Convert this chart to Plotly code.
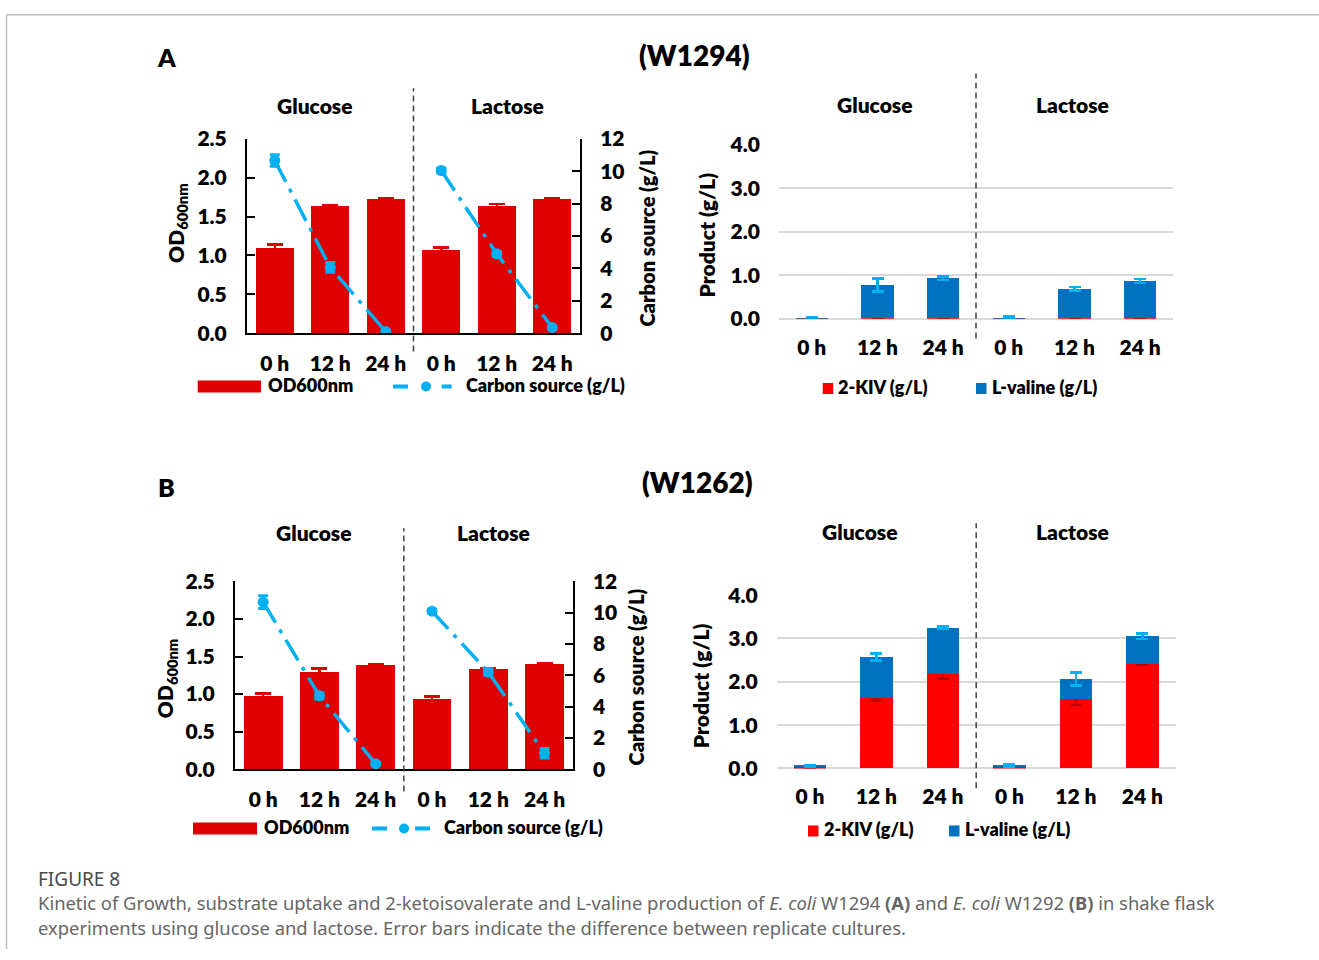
import plotly.graph_objects as go

W, H = 1319, 960

# ---- data -------------------------------------------------------------
time_labels = ["0 h", "12 h", "24 h", "0 h", "12 h", "24 h"]
substrates = ["Glucose", "Lactose"]

# Panel A (W1294)
od_a = [1.10, 1.63, 1.72, 1.07, 1.63, 1.72]
od_a_err = [0.04, 0.02, 0.02, 0.03, 0.03, 0.02]
carbon_a = [10.66, 4.06, 0.10, 10.04, 4.90, 0.35]
carbon_a_err = [0.35, 0.30, 0.05, 0.15, 0.15, 0.10]
kiv_a = [0.01, 0.02, 0.02, 0.01, 0.02, 0.02]
kiv_a_err = [0.0, 0.0, 0.0, 0.0, 0.0, 0.0]
valine_a = [0.01, 0.76, 0.91, 0.01, 0.67, 0.85]
valine_a_err = [0.02, 0.15, 0.04, 0.03, 0.04, 0.05]

# Panel B (W1262)
od_b = [0.97, 1.30, 1.39, 0.94, 1.34, 1.40]
od_b_err = [0.04, 0.04, 0.01, 0.03, 0.01, 0.01]
carbon_b = [10.68, 4.69, 0.34, 10.10, 6.20, 1.02]
carbon_b_err = [0.40, 0.20, 0.10, 0.10, 0.20, 0.30]
kiv_b = [0.03, 1.62, 2.17, 0.04, 1.60, 2.40]
kiv_b_err = [0.01, 0.05, 0.09, 0.01, 0.13, 0.01]
valine_b = [0.03, 0.95, 1.08, 0.03, 0.46, 0.65]
valine_b_err = [0.02, 0.08, 0.03, 0.03, 0.15, 0.06]

# ---- styling ----------------------------------------------------------
RED_OD = "#DC0000"
RED_KIV = "#FF0000"
BLUE_VAL = "#0070C0"
CYAN = "#00B0F0"
FONT = "Lato"
TICK = dict(family=FONT, size=21, color="black", weight=800)

# vertical placement: page rows -> paper fraction
Y_OFF, Y_SCALE = 12.5, 0.974


def px(x):
    return x / W


def py(y):
    return 1 - ((y - Y_OFF) / Y_SCALE) / H


cat = list(range(len(time_labels)))

fig = go.Figure()


def growth_panel(xa, ya, ya2, od, od_err, carbon, carbon_err):
    fig.add_trace(go.Bar(
        x=cat, y=od, width=0.69, marker=dict(color=RED_OD, line=dict(width=0)),
        error_y=dict(type="data", array=od_err, color=RED_OD, thickness=2.5, width=8),
        xaxis=xa, yaxis=ya, showlegend=False, name="OD600nm"))
    for s in (slice(0, 3), slice(3, 6)):
        fig.add_trace(go.Scatter(
            x=cat[s], y=carbon[s], mode="lines+markers",
            line=dict(color=CYAN, width=3.5, dash="24px,8px,4px,8px"),
            marker=dict(color=CYAN, size=11),
            error_y=dict(type="data", array=carbon_err[s], color=CYAN, thickness=3, width=5),
            xaxis=xa, yaxis=ya2, showlegend=False, name="Carbon source (g/L)"))


def product_panel(xa, ya, kiv, kiv_err, val, val_err):
    fig.add_trace(go.Bar(
        x=cat, y=kiv, width=0.49, marker=dict(color=RED_KIV, line=dict(width=0)),
        error_y=dict(type="data", array=kiv_err, color="#C00000", thickness=2.5, width=6),
        xaxis=xa, yaxis=ya, showlegend=False, name="2-KIV (g/L)"))
    fig.add_trace(go.Bar(
        x=cat, y=val, width=0.49, marker=dict(color=BLUE_VAL, line=dict(width=0)),
        error_y=dict(type="data", array=val_err, color=CYAN, thickness=2.5, width=6),
        xaxis=xa, yaxis=ya, showlegend=False, name="L-valine (g/L)"))


growth_panel("x", "y", "y2", od_a, od_a_err, carbon_a, carbon_a_err)
product_panel("x2", "y3", kiv_a, kiv_a_err, valine_a, valine_a_err)
growth_panel("x3", "y4", "y5", od_b, od_b_err, carbon_b, carbon_b_err)
product_panel("x4", "y6", kiv_b, kiv_b_err, valine_b, valine_b_err)


def cat_axis(x0, x1, anchor, line, standoff):
    return dict(domain=[px(x0), px(x1)], range=[-0.5, 5.5], anchor=anchor,
                tickmode="array", tickvals=cat, ticktext=time_labels,
                showline=line, linecolor="black", linewidth=2, ticks="",
                showgrid=False, zeroline=False, tickfont=TICK,
                ticklabelstandoff=standoff, fixedrange=True)


def od_axis(y0, y1, anchor):
    return dict(domain=[py(y1), py(y0)], range=[0, 2.5], dtick=0.5, tickformat=".1f",
                anchor=anchor, showline=True, linecolor="black", linewidth=2,
                ticks="inside", ticklen=8, tickwidth=2, tickcolor="black",
                showgrid=False, zeroline=False, tickfont=TICK, ticklabelstandoff=14)


def carbon_axis(overlay, anchor):
    return dict(overlaying=overlay, side="right", anchor=anchor, range=[0, 12], dtick=2,
                showline=True, linecolor="black", linewidth=2,
                ticks="inside", ticklen=8, tickwidth=2, tickcolor="black",
                showgrid=False, zeroline=False, tickfont=TICK, ticklabelstandoff=14)


def product_axis(y0, y1, anchor):
    return dict(domain=[py(y1), py(y0)], range=[0, 4], dtick=1, tickformat=".1f",
                anchor=anchor, showline=False, ticks="", showgrid=True,
                gridcolor="#D9D9D9", gridwidth=2, zeroline=True,
                zerolinecolor="#D9D9D9", zerolinewidth=2, tickfont=TICK,
                ticklabelstandoff=18)


fig.update_layout(
    width=W, height=H, margin=dict(l=0, r=0, t=0, b=0),
    paper_bgcolor="white", plot_bgcolor="white", barmode="stack",
    font=dict(family=FONT, color="black"),
    xaxis=cat_axis(247, 580, "y", True, 11),
    yaxis=od_axis(137.3, 331.7, "x"),
    yaxis2=carbon_axis("y", "x"),
    xaxis2=cat_axis(779, 1173, "y3", False, 14),
    yaxis3=product_axis(143.3, 317.3, "x2"),
    xaxis3=cat_axis(235, 572.7, "y4", True, 11),
    yaxis4=od_axis(580, 767.7, "x3"),
    yaxis5=carbon_axis("y4", "x3"),
    xaxis4=cat_axis(776.7, 1175.7, "y6", False, 14),
    yaxis6=product_axis(593.7, 767, "x4"),
)

shapes = []
ann = []


def text(x, y, s, size=19, angle=0, anchor="center", weight="bold", color="black", family=FONT):
    if angle == 0:
        y -= 1.8
    ann.append(dict(x=px(x), y=py(y), xref="paper", yref="paper", text=s, showarrow=False,
                    xanchor=anchor, yanchor="middle", textangle=angle,
                    font=dict(family=family, size=size, color=color, weight=weight)))


# page frame
shapes.append(dict(type="line", xref="paper", yref="paper", x0=px(6.5), x1=px(6.5),
                   y0=0, y1=0.9992, line=dict(color="#BDBDBD", width=1.5)))
shapes.append(dict(type="line", xref="paper", yref="paper", x0=px(6.5), x1=1,
                   y0=0.9992, y1=0.9992, line=dict(color="#BDBDBD", width=1.5)))

# panel letters and strain names
text(167, 57, "A", size=25, weight=800)
text(694, 55, "(W1294)", size=28, weight=800)
text(166, 487, "B", size=25, weight=800)
text(697, 482, "(W1262)", size=28, weight=800)

# substrate headers and separators
headers = [
    ("x", 315.3, 507, 106, 86.7, 350),
    ("x2", 875, 1072.5, 105, 72, 337),
    ("x3", 313.7, 493.3, 532.5, 526.7, 790),
    ("x4", 860, 1072.5, 532, 521.7, 786.7),
]
for xa, gx, lx, hy, d0, d1 in headers:
    text(gx, hy, substrates[0], size=21, weight=800)
    text(lx, hy, substrates[1], size=21, weight=800)
    shapes.append(dict(type="line", xref=xa, yref="paper", x0=2.5, x1=2.5,
                       y0=py(d1), y1=py(d0),
                       line=dict(color="#404040", width=1.5, dash="6px,4px")))

# axis titles
text(176.7, 221.7, "OD<sub>600nm</sub>", size=21, angle=-90, weight=800)
text(647, 237, "Carbon source (g/L)", size=20, angle=-90, weight=800)
text(706.7, 233.3, "Product (g/L)", size=21, angle=-90, weight=800)
text(166.7, 677, "OD<sub>600nm</sub>", size=21, angle=-90, weight=800)
text(636, 676, "Carbon source (g/L)", size=20, angle=-90, weight=800)
text(700.7, 684, "Product (g/L)", size=21, angle=-90, weight=800)


# legends
def growth_legend(yc, rx0, rx1, tx1, d1a, d1b, dot, d2a, d2b, tx2):
    shapes.append(dict(type="rect", xref="paper", yref="paper", x0=px(rx0), x1=px(rx1),
                       y0=py(yc + 6), y1=py(yc - 6), fillcolor=RED_OD, line=dict(width=0)))
    text(tx1, yc, "OD600nm", size=18, anchor="left", weight=800)
    for a, b in ((d1a, d1b), (d2a, d2b)):
        shapes.append(dict(type="line", xref="paper", yref="paper", x0=px(a), x1=px(b),
                           y0=py(yc), y1=py(yc), line=dict(color=CYAN, width=4)))
    shapes.append(dict(type="circle", xref="paper", yref="paper", x0=px(dot - 5), x1=px(dot + 5),
                       y0=py(yc + 5), y1=py(yc - 5), fillcolor=CYAN, line=dict(width=0)))
    text(tx2, yc, "Carbon source (g/L)", size=18, anchor="left", weight=800)


def product_legend(yc, s1, t1, s2, t2):
    for sx, col in ((s1, RED_KIV), (s2, BLUE_VAL)):
        shapes.append(dict(type="rect", xref="paper", yref="paper", x0=px(sx), x1=px(sx + 10.5),
                           y0=py(yc + 5.5), y1=py(yc - 5.5), fillcolor=col, line=dict(width=0)))
    text(t1, yc, "2-KIV (g/L)", size=18, anchor="left", weight=800)
    text(t2, yc, "L-valine (g/L)", size=18, anchor="left", weight=800)


growth_legend(385, 197.7, 261, 266, 393, 408, 426, 441.7, 451.7, 464)
product_legend(387, 822.7, 836, 976, 990)
growth_legend(827, 193, 257, 262, 372, 387, 404, 415, 430, 442)
product_legend(829.5, 808, 822, 949, 963)

# caption
CAP = "#666666"
text(36, 879, "FIGURE 8", size=19, anchor="left", weight="normal", color="#4A4A4A", family="Noto Sans")
text(36, 903,
     "Kinetic of Growth, substrate uptake and 2-ketoisovalerate and L-valine production of "
     "<i>E. coli</i> W1294 <b>(A)</b> and <i>E. coli</i> W1292 <b>(B)</b> in shake flask",
     size=18.4, anchor="left", weight="normal", color=CAP, family="Noto Sans")
text(36, 928,
     "experiments using glucose and lactose. Error bars indicate the difference between replicate cultures.",
     size=18.4, anchor="left", weight="normal", color=CAP, family="Noto Sans")

fig.update_layout(shapes=shapes, annotations=ann)
fig.write_html("out.html")
